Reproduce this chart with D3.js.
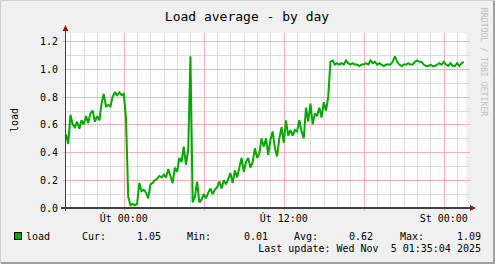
<!DOCTYPE html>
<html>
<head>
<meta charset="utf-8">
<title>Load average - by day</title>
<script src="https://cdn.jsdelivr.net/npm/d3@7"></script>
<style>
  body { margin: 0; background: #f0f0f0; }
  svg text { font-family: "DejaVu Sans Mono", monospace; fill: #000; }
</style>
</head>
<body>
<svg id="chart" width="495" height="264"></svg>
<script>
// samples every 10 minutes, first one at 3 Nov 2025 19:40
var startTime = Date.UTC(2025, 10, 3, 19, 40);
var endTime = Date.UTC(2025, 10, 5, 1, 40);
var stepMinutes = 10;
var load = [
  0.53, 0.46, 0.67, 0.60, 0.58, 0.62, 0.57, 0.63, 0.60, 0.66,
  0.61, 0.68, 0.70, 0.62, 0.66, 0.63, 0.75, 0.82, 0.73, 0.74,
  0.73, 0.80, 0.83, 0.81, 0.83, 0.81, 0.82, 0.64, 0.08, 0.02,
  0.03, 0.02, 0.03, 0.18, 0.12, 0.13, 0.11, 0.07, 0.17, 0.18,
  0.20, 0.21, 0.23, 0.22, 0.24, 0.22, 0.28, 0.23, 0.18, 0.29,
  0.26, 0.36, 0.33, 0.44, 0.31, 0.42, 1.09, 0.04, 0.08, 0.19,
  0.04, 0.06, 0.10, 0.07, 0.11, 0.14, 0.10, 0.13, 0.15, 0.19,
  0.14, 0.20, 0.17, 0.21, 0.25, 0.18, 0.27, 0.22, 0.29, 0.36,
  0.26, 0.33, 0.36, 0.29, 0.33, 0.43, 0.36, 0.39, 0.50, 0.44,
  0.50, 0.38, 0.49, 0.55, 0.43, 0.37, 0.50, 0.58, 0.47, 0.63,
  0.52, 0.56, 0.52, 0.56, 0.55, 0.63, 0.55, 0.50, 0.72, 0.62,
  0.75, 0.60, 0.68, 0.66, 0.72, 0.65, 0.76, 0.70, 0.80, 1.05,
  1.06, 1.03, 1.04, 1.03, 1.04, 1.03, 1.06, 1.04, 1.03, 1.04,
  1.03, 1.03, 1.02, 1.03, 1.03, 1.04, 1.03, 1.06, 1.04, 1.05,
  1.03, 1.04, 1.03, 1.02, 1.03, 1.03, 1.03, 1.05, 1.09, 1.05,
  1.03, 1.02, 1.03, 1.03, 1.04, 1.03, 1.03, 1.05, 1.06, 1.05,
  1.05, 1.03, 1.02, 1.02, 1.03, 1.02, 1.02, 1.03, 1.04, 1.03,
  1.05, 1.03, 1.02, 1.04, 1.02, 1.02, 1.04, 1.02, 1.04, 1.05
];
var yTicks = [0.0, 0.2, 0.4, 0.6, 0.8, 1.0, 1.2];
var dayNames = ["Ne", "Po", "Út", "St", "Čt", "Pá", "So"];
var legendStats = [["Cur:", "1.05"], ["Min:", "0.01"], ["Avg:", "0.62"], ["Max:", "1.09"]];
var lastUpdate = "Last update: Wed Nov  5 01:35:04 2025";

var svg = d3.select("#chart");
var W = 495, H = 264;
var plotL = 66, plotR = 466, plotT = 33, plotB = 208;

var x = d3.scaleUtc().domain([new Date(startTime), new Date(endTime)]).range([plotL, plotR]);
var y = d3.scaleLinear().domain([0, 1.257]).range([plotB, plotT]);

var green = "#00a800";

// frame
svg.append("rect").attr("width", W).attr("height", H).attr("fill", "#f0f0f0");
svg.append("path").attr("d", "M0.5," + (H - 0.5) + "V0.5H" + (W - 0.5))
  .attr("fill", "none").attr("stroke", "#d0d0d0").attr("stroke-width", 1);
svg.append("path").attr("d", "M1," + (H - 1) + "H" + (W - 1) + "V1")
  .attr("fill", "none").attr("stroke", "#a0a0a0").attr("stroke-width", 2);

svg.append("rect").attr("x", plotL).attr("y", plotT)
  .attr("width", plotR - plotL).attr("height", plotB - plotT).attr("fill", "#fff");

// grid
var g = svg.append("g").attr("shape-rendering", "crispEdges");
var hours = x.ticks(d3.utcHour.every(1));
g.selectAll(".vmin").data(hours.filter(function(d) { return d.getUTCHours() % 6 != 0; }))
  .enter().append("line")
  .attr("x1", function(d) { return Math.round(x(d)) + 0.5; })
  .attr("x2", function(d) { return Math.round(x(d)) + 0.5; })
  .attr("y1", plotT).attr("y2", plotB)
  .attr("stroke", "#dcdcdc");
var minorY = d3.range(1, 13, 2).map(function(v) { return v / 10; });
g.selectAll(".hmin").data(minorY).enter().append("line")
  .attr("x1", plotL).attr("x2", plotR + 4)
  .attr("y1", function(d) { return Math.round(y(d)) + 0.5; })
  .attr("y2", function(d) { return Math.round(y(d)) + 0.5; })
  .attr("stroke", "#dcdcdc");
var majors = x.ticks(d3.utcHour.every(6));
g.selectAll(".vmaj").data(majors).enter().append("line")
  .attr("x1", function(d) { return Math.round(x(d)) + 0.5; })
  .attr("x2", function(d) { return Math.round(x(d)) + 0.5; })
  .attr("y1", plotT).attr("y2", plotB + 3)
  .attr("stroke", "#f4b4b4");
g.selectAll(".hmaj").data(yTicks.slice(1)).enter().append("line")
  .attr("x1", plotL - 3).attr("x2", plotR + 4)
  .attr("y1", function(d) { return Math.round(y(d)) + 0.5; })
  .attr("y2", function(d) { return Math.round(y(d)) + 0.5; })
  .attr("stroke", "#f4b4b4");

// y labels
svg.selectAll(".ylab").data(yTicks).enter().append("text")
  .attr("x", 58).attr("y", function(d) { return y(d) + 4; })
  .attr("text-anchor", "end").attr("font-size", 10)
  .text(function(d) { return d.toFixed(1); });

// x labels
var fmt = d3.utcFormat("%H:%M");
svg.selectAll(".xlab").data(x.ticks(d3.utcHour.every(12))).enter().append("text")
  .attr("x", function(d) { return x(d); }).attr("y", 222)
  .attr("text-anchor", "middle").attr("font-size", 10)
  .text(function(d) { return dayNames[d.getUTCDay()] + " " + fmt(d); });

// data line
var line = d3.line()
  .x(function(d, i) { return x(new Date(startTime + i * stepMinutes * 60000)); })
  .y(function(d) { return y(d); });
svg.append("path").datum(load)
  .attr("d", line).attr("fill", "none")
  .attr("stroke", green).attr("stroke-width", 2)
  .attr("stroke-linejoin", "miter").attr("stroke-miterlimit", 2);

// axes
svg.append("line").attr("x1", 61).attr("x2", 471).attr("y1", 208).attr("y2", 208)
  .attr("stroke", "#404040").attr("stroke-width", 2);
svg.append("line").attr("x1", 65.5).attr("x2", 65.5).attr("y1", 211).attr("y2", 29)
  .attr("stroke", "#404040").attr("stroke-width", 1);
svg.append("path").attr("d", "M470,205 L476,208 L470,211 Z").attr("fill", "#8b1a1a");
svg.append("path").attr("d", "M62.5,31 L65.5,25 L68.5,31 Z").attr("fill", "#8b1a1a");

// titles
svg.append("text").attr("x", 247).attr("y", 21).attr("text-anchor", "middle")
  .attr("font-size", 13).text("Load average - by day");
svg.append("text").attr("transform", "translate(18,120) rotate(-90)")
  .attr("text-anchor", "middle").attr("font-size", 10).text("load");
svg.append("text").attr("transform", "translate(481,62) rotate(90)")
  .attr("text-anchor", "middle").attr("font-size", 8.2).style("fill", "#c0c0c0")
  .text("RRDTOOL / TOBI OETIKER");

// legend
svg.append("rect").attr("x", 14.5).attr("y", 232.5).attr("width", 7).attr("height", 7)
  .attr("fill", green).attr("stroke", "#000");
svg.append("text").attr("x", 26).attr("y", 240).attr("font-size", 10).text("load");
var labelX = [82, 187, 294, 400], valueX = [161, 268, 373, 481];
legendStats.forEach(function(s, i) {
  svg.append("text").attr("x", labelX[i]).attr("y", 240).attr("font-size", 10).text(s[0]);
  svg.append("text").attr("x", valueX[i]).attr("y", 240).attr("text-anchor", "end")
    .attr("font-size", 10).text(s[1]);
});
svg.append("text").attr("x", 481).attr("y", 252).attr("text-anchor", "end")
  .attr("font-size", 10).style("white-space", "pre").attr("xml:space", "preserve")
  .text(lastUpdate);
</script>
</body>
</html>
